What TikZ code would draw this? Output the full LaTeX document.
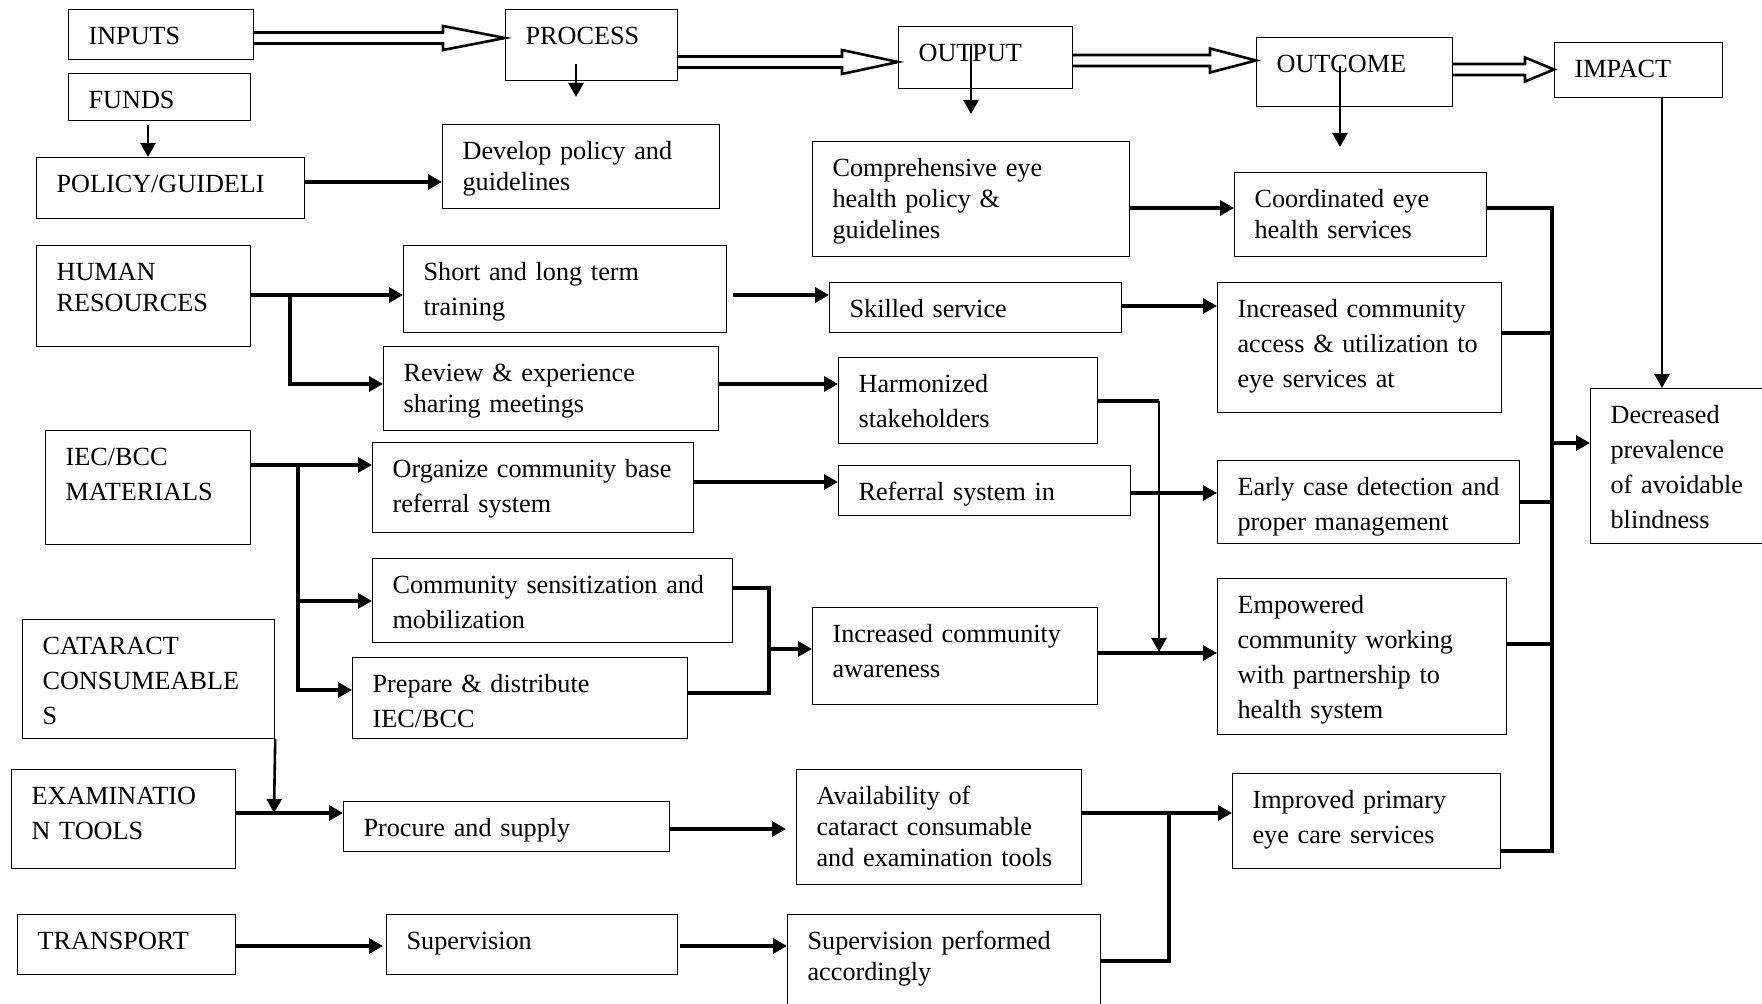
\documentclass[tikz,border=0pt]{standalone}
\usepackage{fontspec}
\setmainfont{Liberation Serif}
\usetikzlibrary{arrows.meta, calc}

% hollow block arrow between two stages: from, to, y level, head length
\newcommand{\blockarrow}[4]{%
	\coordinate (ba-s) at (#1.east |- 0,#3);
	\coordinate (ba-e) at (#2.west |- 0,#3);
	\draw[hollow] ($(ba-s)+(0,5.5)$) -- ($(ba-e)+(-#4,5.5)$) -- ($(ba-e)+(-#4,12)$)
	-- (ba-e) -- ($(ba-e)+(-#4,-12)$) -- ($(ba-e)+(-#4,-5.5)$) -- ($(ba-s)+(0,-5.5)$);
}

\begin{document}
\begin{tikzpicture}[
		x=0.5pt, y=-0.5pt,
		>={Triangle[length=7pt, width=7.5pt]},
		box/.style 2 args={draw, line width=0.6pt, anchor=north west, inner sep=0pt, align=left,
			/utils/exec={\pgfmathsetlengthmacro\boxw{#1*0.5pt}\pgfmathsetlengthmacro\boxd{#2*0.5pt-17.5pt}},
			text width=\boxw, text height=17.5pt, text depth=\boxd,
			font=\fontsize{13.1pt}{17.5pt}\selectfont,
			execute at begin node={\leftskip=10pt}},
		tight/.style={font=\fontsize{13.1pt}{15.5pt}\selectfont},
		conn/.style={->, line width=1.6pt},
		link/.style={line width=1.6pt},
		thinarrow/.style={->, line width=1.3pt},
		hollow/.style={line width=1.3pt, fill=white, line join=miter}
		]
		
		\path[use as bounding box, fill=white] (0,0) rectangle (1762,1004);
		
		% ==========================================
		% Top row: the chain of stages
		% ==========================================
		\node[box={185}{50}] (inputs) at (68,9) {INPUTS};
		\node[box={172}{71}] (process) at (505,9) {PROCESS};
		\node[box={174}{62}] (output) at (898,26) {OUTPUT};
		\node[box={196}{69}] (outcome) at (1256,37) {OUTCOME};
		\node[box={168}{55}] (impact) at (1554,42) {IMPACT};
		
		\blockarrow{inputs}{process}{38}{62}
		\blockarrow{process}{output}{62}{56}
		\blockarrow{output}{outcome}{60.5}{46}
		\blockarrow{outcome}{impact}{69.5}{29}
		
		% ==========================================
		% Inputs column
		% ==========================================
		\node[box={182}{47}] (funds) at (68,73) {FUNDS};
		\node[box={268}{61}] (policy) at (36,157) {POLICY/GUIDELI};
		\node[box={214}{101}, tight] (human) at (36,245) {HUMAN\\RESOURCES};
		\node[box={205}{114}] (iec) at (45,430) {IEC/BCC\\MATERIALS};
		\node[box={252}{119}] (cataract) at (22,619) {CATARACT\\CONSUMEABLE\\S};
		\node[box={224}{99}] (examination) at (11,769) {EXAMINATIO\\N TOOLS};
		\node[box={218}{60}] (transport) at (17,914) {TRANSPORT};
		
		% ==========================================
		% Process column
		% ==========================================
		\node[box={277}{84}, tight] (develop) at (442,124) {Develop policy and\\guidelines};
		\node[box={323}{87}] (shortlong) at (403,245) {Short and long term\\training};
		\node[box={335}{84}, tight] (review) at (383,346) {Review \& experience\\sharing meetings};
		\node[box={321}{90}] (organize) at (372,442) {Organize community base\\referral system};
		\node[box={360}{84}] (sensitization) at (372,558) {Community sensitization and\\mobilization};
		\node[box={335}{81}] (prepare) at (352,657) {Prepare \& distribute\\IEC/BCC};
		\node[box={326}{50}] (procure) at (343,801) {Procure and supply};
		\node[box={291}{60}] (supervision) at (386,914) {Supervision};
		
		% ==========================================
		% Output column
		% ==========================================
		\node[box={317}{115}, tight] (comprehensive) at (812,141) {Comprehensive eye\\health policy \&\\guidelines};
		\node[box={292}{50}] (skilled) at (829,282) {Skilled service};
		\node[box={259}{86}] (harmonized) at (838,357) {Harmonized\\stakeholders};
		\node[box={292}{50}] (referral) at (838,465) {Referral system in};
		\node[box={285}{97}] (awareness) at (812,607) {Increased community\\awareness};
		\node[box={285}{115}, tight] (availability) at (796,769) {Availability of\\cataract consumable\\and examination tools};
		\node[box={313}{100}, tight] (supperf) at (787,914) {Supervision performed\\accordingly};
		
		% ==========================================
		% Outcome and impact columns
		% ==========================================
		\node[box={252}{84}, tight] (coordinated) at (1234,172) {Coordinated eye\\health services};
		\node[box={284}{130}] (access) at (1217,282) {Increased community\\access \& utilization to\\eye services at};
		\node[box={302}{83}] (early) at (1217,460) {Early case detection and\\proper management};
		\node[box={289}{156}] (empowered) at (1217,578) {Empowered\\community working\\with partnership to\\health system};
		\node[box={268}{95}] (improved) at (1232,773) {Improved primary\\eye care services};
		\node[box={180}{155}] (decreased) at (1590,388) {Decreased\\prevalence\\of avoidable\\blindness};
		
		% ==========================================
		% Arrows down from the stage boxes
		% ==========================================
		\coordinate (proc-tip) at (576,97);
		\coordinate (out-tip) at (971,114);
		\coordinate (outc-tip) at (1340,147);
		\coordinate (imp-x) at (1662,0);
		\draw[thinarrow] (process.south -| proc-tip) ++(0,-17) -- (proc-tip);
		\draw[thinarrow] (output.south -| out-tip) ++(0,-43) -- (out-tip);
		\draw[thinarrow] (outcome.south -| outc-tip) ++(0,-41) -- (outc-tip);
		\draw[thinarrow] (impact.south -| imp-x) -- (decreased.north -| imp-x);
		
		% ==========================================
		% Inputs to process
		% ==========================================
		\coordinate (fp-x) at (148,0);
		\draw[->, line width=1.3pt, shorten <=2pt] (funds.south -| fp-x) -- (policy.north -| fp-x);
		\draw[conn] (policy.east |- 0,182) -- (develop.west |- 0,182);
		
		\coordinate (hr-split) at (290,295);
		\draw[conn] (human.east |- hr-split) -- (shortlong.west |- hr-split);
		\draw[conn] (hr-split) |- (review.west |- 0,384);
		
		\coordinate (iec-split) at (298,465);
		\draw[conn] (iec.east |- iec-split) -- (organize.west |- iec-split);
		\draw[conn] (iec-split) |- (prepare.west |- 0,690);
		\draw[conn] (iec-split |- 0,601) -- (sensitization.west |- 0,601);
		
		\coordinate (ex-split) at (274,813);
		\draw[thinarrow] (cataract.south east) -- (ex-split);
		\draw[conn] (examination.east |- ex-split) -- (procure.west |- ex-split);
		\draw[conn, shorten >=1.5pt] (transport.east |- 0,946) -- (supervision.west |- 0,946);
		
		% ==========================================
		% Process to output
		% ==========================================
		\draw[conn, shorten <=3pt] (shortlong.east |- 0,295) -- (skilled.west |- 0,295);
		\draw[conn] (review.east |- 0,384) -- (harmonized.west |- 0,384);
		\draw[conn] (organize.east |- 0,482) -- (referral.west |- 0,482);
		
		\coordinate (aw-join) at (769,649);
		\draw[link] (sensitization.east |- 0,588) -| (aw-join);
		\draw[link] (prepare.east |- 0,693) -| (aw-join);
		\draw[conn] (aw-join) -- (awareness.west |- aw-join);
		
		\draw[conn, shorten >=5pt] (procure.east |- 0,829) -- (availability.west |- 0,829);
		\draw[conn, shorten <=1pt] (supervision.east |- 0,946) -- (supperf.west |- 0,946);
		
		% ==========================================
		% Output to outcome
		% ==========================================
		\draw[conn] (comprehensive.east |- 0,208) -- (coordinated.west |- 0,208);
		\draw[conn] (skilled.east |- 0,306) -- (access.west |- 0,306);
		
		\coordinate (harm-bend) at (1159,401);
		\coordinate (harm-tip) at (1159,652);
		\draw[link] (harmonized.east |- harm-bend) -- (harm-bend);
		\draw[thinarrow] (harm-bend) -- (harm-tip);
		
		\draw[conn] (referral.east |- 0,493) -- (early.west |- 0,493);
		\draw[conn] (awareness.east |- 0,653) -- (empowered.west |- 0,653);
		
		\coordinate (ip-join) at (1169,813);
		\draw[conn] (availability.east |- ip-join) -- (improved.west |- ip-join);
		\draw[link] (supperf.east |- 0,961) -| (ip-join);
		
		% ==========================================
		% Outcome to impact
		% ==========================================
		\coordinate (bus-top) at (1552,208);
		\coordinate (bus-bot) at (1552,851);
		\draw[link] (coordinated.east |- bus-top) -- (bus-top) -- (bus-bot) -- (improved.east |- bus-bot);
		\draw[link] (access.east |- 0,333) -- (bus-top |- 0,333);
		\draw[link] (early.east |- 0,502) -- (bus-top |- 0,502);
		\draw[link] (empowered.east |- 0,644) -- (bus-top |- 0,644);
		\draw[conn] (bus-top |- 0,443) -- (decreased.west |- 0,443);
		
\end{tikzpicture}
\end{document}
